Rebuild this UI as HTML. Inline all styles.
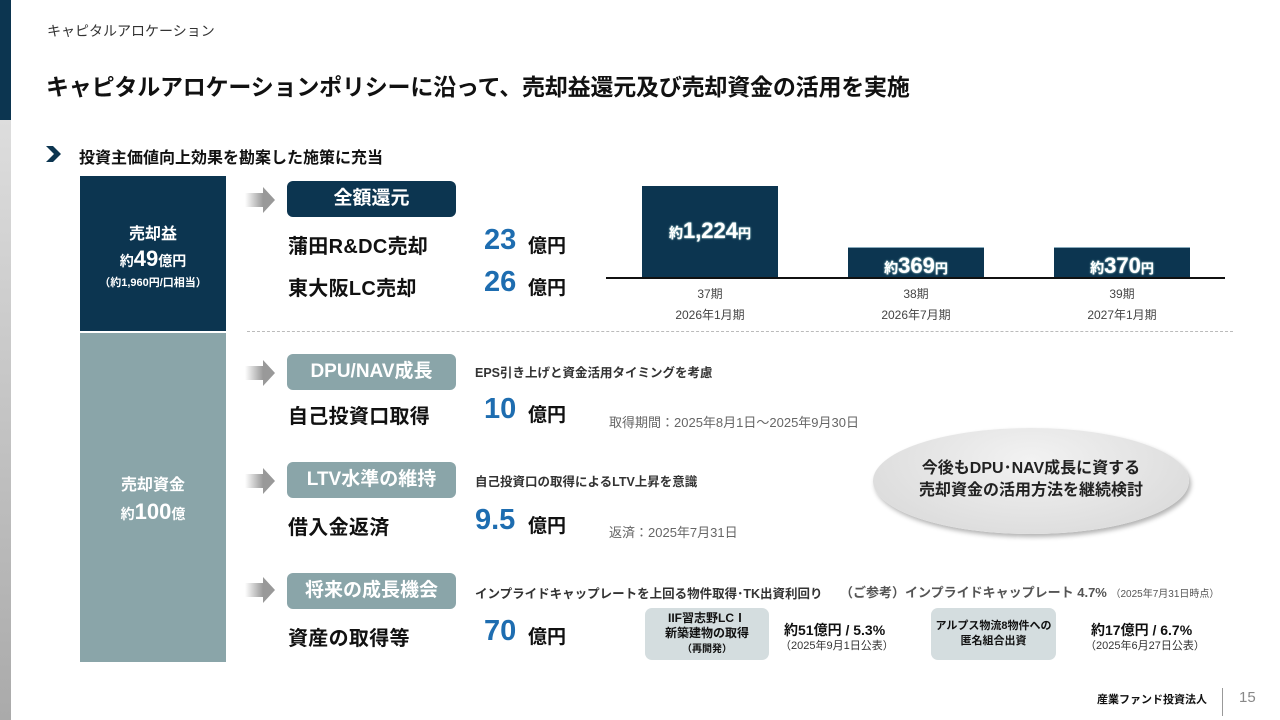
<!DOCTYPE html>
<html><head><meta charset="utf-8"><style>
*{margin:0;padding:0;box-sizing:border-box}
body{width:1280px;height:720px;position:relative;overflow:hidden;background:#fff;font-family:"Liberation Sans","Noto Sans CJK JP",sans-serif;color:#111}
.a{position:absolute;white-space:nowrap}
.b{font-weight:bold}
.tag{position:absolute;left:287px;width:169px;height:36px;border-radius:6px;color:#fff;font-weight:bold;font-size:19px;text-align:center;line-height:36px}
.arr{position:absolute;left:245px;width:30px;height:26px}
.row{font-size:20px;font-weight:bold;letter-spacing:.3px}
.num{font-size:29px;font-weight:bold;color:#1e6db0}
.oku{font-size:19px;font-weight:bold}
.sm{font-size:12.5px;color:#333}
.g{font-size:13px;color:#666}
.bar{position:absolute;background:#0c3550;color:#fff;font-weight:bold;text-align:center;text-shadow:0 0 2px #9cc,0 0 1px #fff}
.lab{position:absolute;width:136px;text-align:center;font-size:12px;color:#444;line-height:21px}
.pb{position:absolute;background:#d4dddf;border-radius:7px;text-align:center;font-size:12px;font-weight:bold;line-height:15px}
</style></head><body>
<div class="a" style="left:0;top:0;width:11px;height:120px;background:#0c3550"></div>
<div class="a" style="left:0;top:120px;width:11px;height:600px;background:linear-gradient(#ddd,#aaa)"></div>
<div class="a" style="left:47px;top:21px;font-size:14px;color:#333">キャピタルアロケーション</div>
<div class="a b" style="left:46px;top:68px;font-size:23px;letter-spacing:-0.2px;color:#111">キャピタルアロケーションポリシーに沿って、売却益還元及び売却資金の活用を実施</div>
<svg class="a" style="left:46px;top:146px" width="16" height="16"><polygon points="0,0 7,0 15,8 7,16 0,16 8,8" fill="#0c3550"/></svg>
<div class="a b" style="left:79px;top:144px;font-size:16px">投資主価値向上効果を勘案した施策に充当</div>

<div class="a" style="left:80px;top:176px;width:146px;height:155px;background:#0c3550;color:#fff;text-align:center;font-weight:bold">
<div style="margin-top:44px;font-size:16px">売却益</div>
<div style="font-size:14px;margin-top:2px">約<span style="font-size:22px">49</span>億円</div>
<div style="font-size:11px;margin-top:2px">（約1,960円/口相当）</div></div>
<div class="a" style="left:80px;top:333px;width:146px;height:329px;background:#8aa5a9;color:#fff;text-align:center;font-weight:bold">
<div style="margin-top:138px;font-size:16px">売却資金</div>
<div style="font-size:14px;margin-top:4px">約<span style="font-size:22px">100</span>億</div></div>

<svg class="arr" style="top:187px" viewBox="0 0 30 26"><defs><linearGradient id="ag"><stop offset="0" stop-color="#fff"/><stop offset=".6" stop-color="#999"/></linearGradient></defs><polygon points="0,6 18,6 18,0 30,13 18,26 18,20 0,20" fill="url(#ag)"/></svg>
<svg class="arr" style="top:360px" viewBox="0 0 30 26"><polygon points="0,6 18,6 18,0 30,13 18,26 18,20 0,20" fill="url(#ag)"/></svg>
<svg class="arr" style="top:468px" viewBox="0 0 30 26"><polygon points="0,6 18,6 18,0 30,13 18,26 18,20 0,20" fill="url(#ag)"/></svg>
<svg class="arr" style="top:577px" viewBox="0 0 30 26"><polygon points="0,6 18,6 18,0 30,13 18,26 18,20 0,20" fill="url(#ag)"/></svg>

<div class="tag" style="top:181px;background:#0c3550">全額還元</div>
<div class="a row" style="left:288px;top:230px">蒲田R&amp;DC売却</div>
<div class="a num" style="left:484px;top:224px">23</div><div class="a oku" style="left:528px;top:231px">億円</div>
<div class="a row" style="left:288px;top:272px">東大阪LC売却</div>
<div class="a num" style="left:484px;top:266px">26</div><div class="a oku" style="left:528px;top:273px">億円</div>

<div class="a" style="left:606px;top:277px;width:619px;height:2px;background:#111"></div>
<div class="bar" style="left:642px;top:186px;width:136px;height:91px;font-size:22px;line-height:90px"><span style="font-size:14px">約</span>1,224<span style="font-size:13px">円</span></div>
<div class="bar" style="left:848px;top:247px;width:136px;height:30px;font-size:22px;line-height:36px;border-top:1px solid #8ab"><span style="font-size:14px">約</span>369<span style="font-size:13px">円</span></div>
<div class="bar" style="left:1054px;top:247px;width:136px;height:30px;font-size:22px;line-height:36px;border-top:1px solid #8ab"><span style="font-size:14px">約</span>370<span style="font-size:13px">円</span></div>
<div class="lab" style="left:642px;top:284px">37期<br>2026年1月期</div>
<div class="lab" style="left:848px;top:284px">38期<br>2026年7月期</div>
<div class="lab" style="left:1054px;top:284px">39期<br>2027年1月期</div>
<div class="a" style="left:247px;top:331px;width:986px;border-top:1px dashed #bbb"></div>

<div class="tag" style="top:354px;background:#8aa5a9">DPU/NAV成長</div>
<div class="a sm b" style="left:475px;top:362px;color:#333">EPS引き上げと資金活用タイミングを考慮</div>
<div class="a row" style="left:288px;top:400px">自己投資口取得</div>
<div class="a num" style="left:484px;top:393px">10</div><div class="a oku" style="left:528px;top:400px">億円</div>
<div class="a g" style="left:609px;top:412px">取得期間：2025年8月1日～2025年9月30日</div>

<div class="tag" style="top:462px;background:#8aa5a9">LTV水準の維持</div>
<div class="a sm b" style="left:475px;top:471px">自己投資口の取得によるLTV上昇を意識</div>
<div class="a row" style="left:288px;top:511px">借入金返済</div>
<div class="a num" style="left:475px;top:504px">9.5</div><div class="a oku" style="left:528px;top:511px">億円</div>
<div class="a g" style="left:609px;top:522px">返済：2025年7月31日</div>

<div class="a" style="left:873px;top:428px;width:316px;height:106px;border-radius:50%;background:radial-gradient(ellipse at 50% 30%,#f2f2f2,#d6d6d6);box-shadow:2px 3px 5px rgba(0,0,0,.3)"></div>
<div class="a b" style="left:873px;top:458px;width:316px;text-align:center;font-size:16px;line-height:22px;color:#222">今後もDPU･NAV成長に資する<br>売却資金の活用方法を継続検討</div>

<div class="tag" style="top:573px;background:#8aa5a9">将来の成長機会</div>
<div class="a sm b" style="left:475px;top:583px">インプライドキャップレートを上回る物件取得･TK出資利回り</div>
<div class="a b" style="left:840px;top:582px;font-size:13px;color:#555">（ご参考）インプライドキャップレート 4.7% <span style="font-size:10px;font-weight:normal">（2025年7月31日時点）</span></div>
<div class="a row" style="left:288px;top:622px">資産の取得等</div>
<div class="a num" style="left:484px;top:615px">70</div><div class="a oku" style="left:528px;top:622px">億円</div>

<div class="pb" style="left:645px;top:608px;width:124px;height:52px;padding-top:3px">IIF習志野LCⅠ<br>新築建物の取得<br><span style="font-size:10px">（再開発）</span></div>
<div class="a b" style="left:784px;top:620px;font-size:14px">約51億円 / 5.3%</div>
<div class="a" style="left:780px;top:637px;font-size:11px;color:#333">（2025年9月1日公表）</div>
<div class="pb" style="left:931px;top:608px;width:125px;height:52px;padding-top:11px;font-size:11px;white-space:nowrap">アルプス物流8物件への<br>匿名組合出資</div>
<div class="a b" style="left:1091px;top:620px;font-size:14px">約17億円 / 6.7%</div>
<div class="a" style="left:1085px;top:637px;font-size:11px;color:#333">（2025年6月27日公表）</div>

<div class="a b" style="left:1097px;top:691px;font-size:11px">産業ファンド投資法人</div>
<div class="a" style="left:1222px;top:688px;width:1px;height:28px;background:#999"></div>
<div class="a" style="left:1239px;top:689px;font-size:15px;color:#888">15</div>
</body></html>
